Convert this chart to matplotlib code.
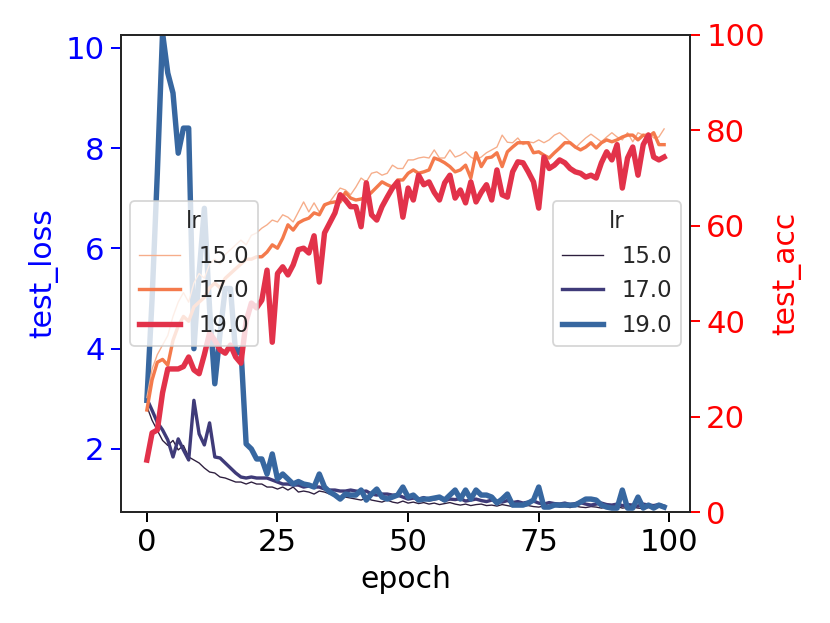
import numpy as np
import matplotlib
matplotlib.use("Agg")
import matplotlib.pyplot as plt

# learning rates used as hue / size levels
lrs = ["15.0", "17.0", "19.0"]

# test loss per epoch
loss_lr15 = [2.85, 2.57, 2.37, 2.17, 2.07, 2.17, 1.98, 2.07, 1.84, 1.78,
             1.72, 1.62, 1.54, 1.52, 1.44, 1.42, 1.38, 1.34, 1.34, 1.3,
             1.34, 1.3, 1.3, 1.24, 1.24, 1.2, 1.24, 1.18, 1.24, 1.14,
             1.16, 1.14, 1.1, 1.16, 1.14, 1.1, 1.08, 1.04, 1.04, 1.02,
             1.0, 0.98, 1.02, 0.98, 0.96, 0.94, 0.98, 0.94, 0.92, 0.96,
             0.92, 0.94, 0.91, 0.93, 0.9, 0.92, 0.89, 0.91, 0.93, 0.9,
             0.88, 0.9, 0.87, 0.89, 0.9, 0.87, 0.88, 0.86, 0.89, 0.87,
             0.85, 0.88, 0.86, 0.87, 0.85, 0.84, 0.86, 0.85, 0.87, 0.84,
             0.85, 0.83, 0.86, 0.84, 0.83, 0.85, 0.84, 0.82, 0.84, 0.83,
             0.85, 0.82, 0.83, 0.84, 0.82, 0.81, 0.83, 0.82, 0.84, 0.82]
loss_lr17 = [3.0, 2.77, 2.53, 2.38, 2.18, 1.84, 2.2, 1.98, 1.78, 2.97,
             2.3, 2.08, 2.52, 1.84, 1.82, 1.72, 1.62, 1.52, 1.44, 1.42,
             1.44, 1.42, 1.42, 1.42, 1.38, 1.34, 1.3, 1.3, 1.28, 1.28,
             1.24, 1.26, 1.24, 1.24, 1.2, 1.18, 1.18, 1.16, 1.16, 1.18,
             1.16, 1.15, 1.16, 1.1, 1.08, 1.1, 1.1, 1.08, 1.08, 1.04,
             1.0, 1.02, 1.0, 1.03, 0.98, 1.0, 1.02, 0.97, 1.0, 0.99,
             1.01, 0.96, 0.98, 1.0, 0.97, 0.95, 0.98, 0.96, 0.94, 0.97,
             0.93, 0.95, 0.92, 0.94, 0.96, 0.92, 0.9, 0.93, 0.91, 0.9,
             0.92, 0.89, 0.91, 0.93, 0.9, 0.88, 0.9, 0.92, 0.89, 0.88,
             0.9, 0.87, 0.89, 0.88, 0.86, 0.9, 0.88, 0.87, 0.89, 0.86]
loss_lr19 = [2.97, 5.0, 7.5, 10.3, 9.5, 9.1, 7.9, 8.4, 8.4, 4.0,
             5.5, 6.8, 4.8, 3.3, 4.3, 5.2, 5.2, 3.9, 4.0, 2.1,
             2.0, 1.8, 1.8, 1.5, 1.9, 1.4, 1.5, 1.4, 1.3, 1.35,
             1.3, 1.28, 1.24, 1.5, 1.24, 1.14, 1.08, 1.0, 1.1, 1.08,
             1.08, 1.18, 0.98, 1.1, 1.2, 1.04, 1.0, 1.04, 1.08, 1.24,
             1.04, 1.08, 0.98, 1.0, 1.0, 1.02, 1.04, 0.98, 1.08, 1.18,
             1.0, 1.18, 1.0, 1.18, 1.08, 1.08, 1.04, 0.92, 1.0, 1.1,
             0.88, 0.88, 0.88, 0.92, 0.98, 1.24, 0.84, 0.84, 0.88, 0.88,
             0.88, 0.88, 0.88, 0.94, 1.0, 1.0, 0.98, 0.88, 0.84, 0.82,
             0.82, 1.18, 0.82, 0.82, 1.04, 0.82, 0.88, 0.82, 0.88, 0.84]

# test accuracy per epoch
acc_lr15 = [24, 30, 33, 35, 37, 41, 44, 46, 44, 48,
            50, 49, 52, 53, 52, 54, 55, 56, 57, 56,
            58, 58.5, 59.5, 60.2, 61.2, 60.8, 62.3, 61.8, 60.8, 62.9,
            65, 62.9, 64.8, 62.9, 64, 65, 66.5, 67.9, 67.5, 66.5,
            68.1, 70, 69.2, 71, 71.3, 70.6, 71, 72.7, 72, 72,
            73.8, 73.8, 74.2, 74.4, 74.2, 75.9, 74.2, 74.2, 75.9, 74.4,
            74.8, 75.5, 74.4, 73.8, 74.4, 75.3, 75.9, 76.5, 79, 77.5,
            77.4, 78.4, 77, 77.6, 77.4, 78, 77.4, 78, 79, 79.5,
            78.6, 77.6, 76.3, 77.4, 78.4, 79.2, 78.4, 77.6, 78.6, 79.5,
            78.6, 78, 79.5, 77.6, 79.5, 79, 79.5, 78.4, 78.6, 80.3]
acc_lr17 = [21.4, 27.7, 31.4, 32, 30.8, 36, 39, 41, 40, 43,
            44, 45, 47, 48, 47, 49, 50, 51, 52, 53,
            53, 53.5, 53.5, 54.5, 56, 55.3, 57.4, 60.2, 59.1, 60.6,
            61.2, 61.6, 62.7, 62.3, 64.4, 64.8, 65, 65, 67, 65.8,
            65.4, 65.6, 66, 67, 68.1, 69.2, 68.6, 68.1, 69.6, 69.6,
            71, 71.7, 71, 71.3, 71.7, 74.2, 73.8, 73.2, 72.4, 71.3,
            71.7, 72.7, 70, 75.3, 72.4, 74.2, 74.4, 75.3, 72.4, 75.5,
            76.5, 77.4, 77.4, 77.4, 75.3, 75.5, 74.8, 74.2, 75.3, 76.3,
            77.4, 77.4, 76.5, 75.9, 76.5, 77.4, 76.3, 77.4, 78, 77.6,
            78, 78.6, 79, 79, 78, 79, 78.6, 79.5, 77, 77]
acc_lr19 = [10.9, 16.6, 17.2, 25, 30, 30, 30, 30.5, 32.5, 29.8,
            29, 33, 37.5, 36, 34, 33.3, 35, 32.5, 31.2, 40,
            43.8, 42.8, 44.4, 50.7, 35.6, 50, 51.4, 49.7, 51.8, 55,
            55.3, 54.3, 57.9, 48.2, 58.5, 60.6, 62.7, 66.5, 65.4, 64,
            64, 59.8, 69, 62.3, 61.2, 64, 66, 67.9, 69.2, 61.8,
            67.9, 65.4, 70.6, 68.6, 69.2, 67, 65.4, 69, 70.6, 65.8,
            67.5, 64.8, 69.2, 65, 67, 68.6, 65.4, 71.7, 66.5, 66,
            71.3, 73.4, 73.2, 71.3, 69.2, 63.7, 74.4, 72, 72.7, 73.8,
            73.2, 72, 71.3, 71, 70.2, 70.6, 70, 73.2, 75.5, 73.8,
            77, 67.9, 74.2, 76.5, 70.6, 77, 79, 74.4, 73.8, 74.4]

epochs = np.arange(len(loss_lr15))

loss_series = [loss_lr15, loss_lr17, loss_lr19]
acc_series = [acc_lr15, acc_lr17, acc_lr19]
loss_colors = ["#2d1e3e", "#3f3b79", "#3767a0"]
acc_colors = ["#f6ad8a", "#f47a4c", "#e2324a"]
widths = [0.75, 1.875, 3.0]

plt.rcParams["font.family"] = "DejaVu Sans"

fig = plt.figure(figsize=(830 / 130, 623 / 130), dpi=130)
ax1 = fig.add_axes([0.1458, 0.178, 0.6855, 0.766])
ax2 = ax1.twinx()

for vals, c, lw, lab in zip(loss_series, loss_colors, widths, lrs):
    ax1.plot(epochs, vals, color=c, lw=lw, label=lab)
for vals, c, lw, lab in zip(acc_series, acc_colors, widths, lrs):
    ax2.plot(epochs, vals, color=c, lw=lw, label=lab)

ax1.set_xlim(-4.95, 103.95)
ax1.set_ylim(0.74, 10.26)
ax2.set_ylim(0, 100)
ax1.set_xticks([0, 25, 50, 75, 100])
ax1.set_yticks([2, 4, 6, 8, 10])
ax2.set_yticks([0, 20, 40, 60, 80, 100])

ax1.set_xlabel("epoch", fontsize=16.5)
ax1.set_ylabel("test_loss", color="blue", fontsize=16.5)
ax2.set_ylabel("test_acc", color="red", fontsize=16.5)

ax1.tick_params(axis="x", labelsize=17, length=5.5, width=1.1)
ax1.tick_params(axis="y", colors="blue", labelsize=17, length=5.5, width=1.1)
ax2.tick_params(axis="y", colors="red", labelsize=17, length=5.5, width=1.1)
for ax in (ax1, ax2):
    for sp in ax.spines.values():
        sp.set_color("#262626")
        sp.set_linewidth(1.1)

leg1 = ax1.legend(title="lr", loc="center right", fontsize=12.6,
                  title_fontsize=12.6, handlelength=1.8,
                  borderaxespad=0.4)
leg2 = ax2.legend(title="lr", loc="center left", fontsize=12.6,
                  title_fontsize=12.6, handlelength=1.8,
                  borderaxespad=0.4)
for leg in (leg1, leg2):
    for t in leg.get_texts():
        t.set_color("#262626")
    leg.get_title().set_color("#262626")

fig.savefig("out.png", dpi=130)
